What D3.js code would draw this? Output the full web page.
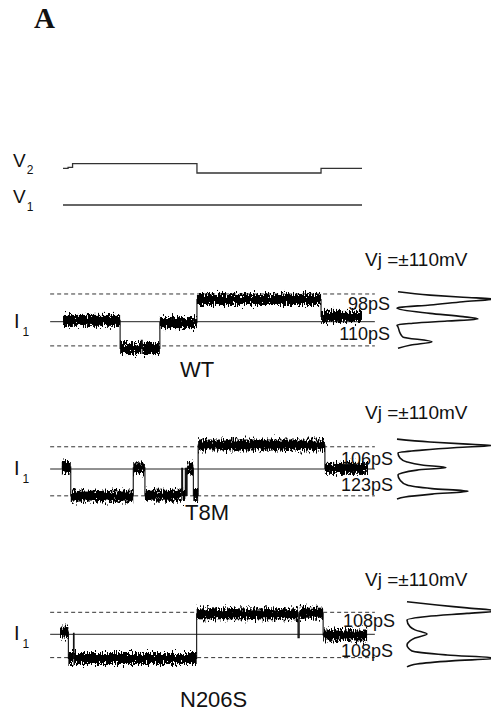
<!DOCTYPE html>
<html>
<head>
<meta charset="utf-8">
<script src="https://cdn.jsdelivr.net/npm/d3@7"></script>
<style>
  html, body { margin: 0; padding: 0; background: #fff; }
  svg { display: block; }
  text { font-family: "Liberation Sans", Arial, sans-serif; fill: #111; }
</style>
</head>
<body>
<svg id="fig" width="491" height="719"></svg>
<script>
// ---- Data -------------------------------------------------------------
// Time runs 0..100 (arbitrary units); currents in pA; voltages in mV.

// Voltage protocol: [start, end, mV]
const v2Steps = [[0, 1.7, 0], [1.7, 3.2, 25], [3.2, 44.8, 110], [44.8, 86.3, -110], [86.3, 100, 0]];
const v1Steps = [[0, 100, 0]];

const constructs = ["WT", "T8M", "N206S"];
const vjLabel = "Vj =±110mV";

// Single-channel dwell segments: [start, end, current]
const wtSegments = [
  [0, 19.1, 0.6], [19.1, 26.2, -12.2], [26.2, 26.5, -8.5], [26.5, 32.4, -12.2],
  [32.4, 44.8, -0.4], [44.8, 86.3, 10.1], [86.3, 100, 2.4]
];
const t8mSegments = [
  [-0.4, 2.6, 0.9], [2.6, 23.5, -12.3], [23.5, 27.4, 0.5], [27.4, 39.7, -11.9],
  [39.7, 40.0, 0.3], [40.0, 40.9, -12.0], [40.9, 41.2, 0.3], [41.2, 41.5, -12.0],
  [41.5, 43.6, 0.4], [43.6, 45.2, -12.0], [45.2, 87.6, 10.9], [87.6, 102.0, 0.3]
];
const n206sSegments = [
  [-1.0, 1.8, 1.0], [1.8, 3.5, -11.0], [3.5, 3.7, 0.5], [3.7, 44.7, -11.0],
  [44.7, 78.6, 9.3], [78.6, 79.0, -1.5], [79.0, 87.0, 9.6], [87.0, 101.7, -0.3]
];

// Open-level reference currents (upper, lower)
const wtLevels = [12.6, -11.0];
const t8mLevels = [10.1, -12.2];
const n206sLevels = [10.0, -10.6];

// Conductance labels (upper, lower)
const wtConductance = ["98pS", "110pS"];
const t8mConductance = ["106pS", "123pS"];
const n206sConductance = ["108pS", "108pS"];

// All-points amplitude histograms: [current, count]
const wtHist = [
  [13.6, 1], [12.1, 33], [11.1, 66], [10.3, 97], [9.1, 66], [7.6, 33], [6.5, 3], [6.1, 0],
  [3.8, 33], [2.3, 66], [1.2, 81], [0.3, 50], [-0.7, 16], [-1.5, 0],
  [-2.4, 1], [-5.1, 3], [-7.0, 6], [-9.1, 35], [-10.6, 14], [-12.1, 1]
];
const t8mHist = [
  [13.6, 0], [12.3, 33], [11.4, 66], [10.7, 95], [9.8, 60], [8.6, 25], [7.3, 1],
  [5.0, 3], [3.2, 10], [1.8, 25], [0.7, 49], [-0.5, 20], [-1.8, 5], [-2.7, 1],
  [-5.0, 3], [-7.3, 10], [-8.9, 35], [-10.1, 71], [-11.4, 35], [-12.7, 8], [-13.6, 0]
];
const n206sHist = [
  [14.8, 0], [13.3, 30], [12.0, 60], [10.6, 90], [9.5, 60], [8.1, 20], [6.5, 0],
  [3.5, 3], [2.0, 8], [0.1, 20], [-1.7, 8], [-3.0, 3], [-4.9, 0],
  [-7.6, 5], [-9.4, 40], [-10.9, 90], [-12.1, 45], [-13.5, 10], [-14.8, 0]
];

// ---- Layout -----------------------------------------------------------
const svg = d3.select("#fig");
const defs = svg.append("defs");

// noise texture for the recorded current bands (vertical jitter only)
const f = defs.append("filter").attr("id", "noisy")
  .attr("x", "-2%").attr("y", "-60%").attr("width", "104%").attr("height", "220%")
  .attr("color-interpolation-filters", "sRGB");
f.append("feTurbulence").attr("type", "fractalNoise").attr("baseFrequency", "0.9 0.25")
  .attr("numOctaves", 3).attr("seed", 7).attr("result", "n");
f.append("feColorMatrix").attr("in", "n").attr("type", "matrix")
  .attr("values", "0 0 0 0 0.5  0 1 0 0 0  0 0 1 0 0  0 0 0 0 1").attr("result", "m");
f.append("feDisplacementMap").attr("in", "SourceGraphic").attr("in2", "m")
  .attr("scale", 14).attr("xChannelSelector", "R").attr("yChannelSelector", "G");

const tx = d3.scaleLinear().domain([0, 100]).range([63, 362]);
const lineExtent = [-4.3, 104.3];

// panel label
svg.append("text").attr("x", 34).attr("y", 28)
  .style("font-family", "'Liberation Serif', 'Times New Roman', serif")
  .style("font-weight", "bold").style("font-size", "29px").text("A");

// ---- Voltage traces ----
function stepPoints(steps) {
  const pts = steps.map(s => [s[0], s[2]]);
  const last = steps[steps.length - 1];
  pts.push([last[1], last[2]]);
  return pts;
}

function subLabel(x, y, main, sub, size, subSize, subDy) {
  const t = svg.append("text").attr("x", x).attr("y", y).style("font-size", size + "px");
  t.append("tspan").text(main);
  t.append("tspan").attr("dy", subDy).attr("dx", 1).style("font-size", subSize + "px").text(sub);
}

const v2y = d3.scaleLinear().domain([-110, 110]).range([173, 163.7]);
const v1y = d3.scaleLinear().domain([-110, 110]).range([209.6, 200.4]);

svg.append("path").datum(stepPoints(v2Steps))
  .attr("d", d3.line().x(d => tx(d[0])).y(d => v2y(d[1])).curve(d3.curveStepAfter))
  .attr("fill", "none").attr("stroke", "#333").attr("stroke-width", 1.3);
svg.append("path").datum(stepPoints(v1Steps))
  .attr("d", d3.line().x(d => tx(d[0])).y(d => v1y(d[1])).curve(d3.curveStepAfter))
  .attr("fill", "none").attr("stroke", "#333").attr("stroke-width", 1.3);

subLabel(13, 167, "V", "2", 19, 12, 7);
subLabel(13, 203, "V", "1", 19, 12, 8);

// ---- Current panels ----
const panels = [
  { name: constructs[0], seg: wtSegments, levels: wtLevels, g: wtConductance, hist: wtHist,
    center: 321.7, histBase: 397, vjY: 266, nameX: 180, nameY: 377,
    gY: [310, 340], gX: [390, 390] },
  { name: constructs[1], seg: t8mSegments, levels: t8mLevels, g: t8mConductance, hist: t8mHist,
    center: 469, histBase: 397, vjY: 419, nameX: 185, nameY: 520,
    gY: [465, 491], gX: [393, 393] },
  { name: constructs[2], seg: n206sSegments, levels: n206sLevels, g: n206sConductance, hist: n206sHist,
    center: 634.3, histBase: 407, vjY: 586, nameX: 180, nameY: 707,
    gY: [627, 657], gX: [395, 393] }
];

panels.forEach(p => {
  const iy = d3.scaleLinear().domain([0, 10]).range([p.center, p.center - 22]);
  const hx = d3.scaleLinear().domain([0, 100]).range([p.histBase, p.histBase + 100]);
  const g = svg.append("g");

  // open-level references
  p.levels.forEach(l => {
    g.append("line").attr("x1", tx(lineExtent[0])).attr("x2", tx(lineExtent[1]))
      .attr("y1", iy(l)).attr("y2", iy(l))
      .attr("stroke", "#333").attr("stroke-width", 1).attr("stroke-dasharray", "4,3");
  });
  // closed (zero-current) baseline
  g.append("line").attr("x1", tx(lineExtent[0])).attr("x2", tx(lineExtent[1]))
    .attr("y1", iy(0)).attr("y2", iy(0)).attr("stroke", "#222").attr("stroke-width", 1);

  // amplitude histogram
  g.append("path").datum(p.hist)
    .attr("d", d3.line().x(d => hx(d[1])).y(d => iy(d[0])).curve(d3.curveMonotoneY))
    .attr("fill", "none").attr("stroke", "#111").attr("stroke-width", 1.6);

  // current record: thin step outline plus noisy dwell bands
  g.append("path").datum(stepPoints(p.seg))
    .attr("d", d3.line().x(d => tx(d[0])).y(d => iy(d[1])).curve(d3.curveStepAfter))
    .attr("fill", "none").attr("stroke", "#111").attr("stroke-width", 1.1);

  const bands = g.append("g").attr("filter", "url(#noisy)");
  bands.selectAll("rect").data(p.seg.filter(s => s[1] - s[0] > 0.8))
    .join("rect")
    .attr("x", s => tx(s[0])).attr("width", s => tx(s[1]) - tx(s[0]))
    .attr("y", s => iy(s[2]) - 5.5).attr("height", 11)
    .attr("fill", "#000");

  // labels
  g.append("text").attr("x", 365).attr("y", p.vjY).style("font-size", "19px").text(vjLabel);
  g.append("text").attr("x", p.nameX).attr("y", p.nameY).style("font-size", "22px").text(p.name);
  p.g.forEach((lab, i) => {
    g.append("text").attr("x", p.gX[i]).attr("y", p.gY[i]).attr("text-anchor", "end")
      .style("font-size", "18px").text(lab);
  });
  const il = g.append("text").attr("x", 14).attr("y", p.center + 6).style("font-size", "20px");
  il.append("tspan").text("I");
  il.append("tspan").attr("dx", 3).attr("dy", 8).style("font-size", "12px").text("1");
});
</script>
</body>
</html>
